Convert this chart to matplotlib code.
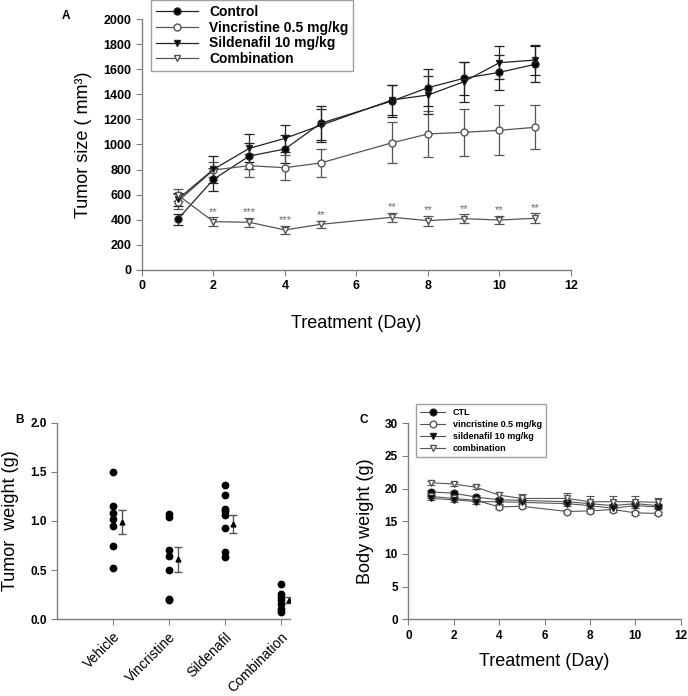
import matplotlib
matplotlib.use("Agg")
import matplotlib.pyplot as plt
from matplotlib.lines import Line2D
import numpy as np

plt.rcParams["font.family"] = ["Liberation Sans", "DejaVu Sans"]

# ---------------- data ----------------
days = [1, 2, 3, 4, 5, 7, 8, 9, 10, 11]

# panel A: tumour size (mm3)
ctl_size = [404, 722, 908, 964, 1169, 1347, 1453, 1527, 1575, 1639]
ctl_size_err = [45, 90, 100, 110, 135, 125, 150, 130, 140, 145]
vin_size = [545, 797, 831, 815, 853, 1014, 1084, 1097, 1113, 1137]
vin_size_err = [60, 60, 90, 100, 115, 163, 185, 185, 200, 175]
sil_size = [563, 802, 969, 1049, 1153, 1355, 1394, 1500, 1652, 1673]
sil_size_err = [50, 106, 112, 106, 130, 120, 150, 160, 133, 120]
cmb_size = [598, 385, 380, 319, 364, 420, 393, 409, 398, 412]
cmb_size_err = [45, 35, 35, 35, 30, 35, 40, 35, 35, 40]
stars = ["", "**", "***", "***", "**", "**", "**", "**", "**", "**"]

# panel B: tumour weight (g)
groups = ["Vehicle", "Vincristine", "Sildenafil", "Combination"]
w_vehicle = [1.50, 1.15, 1.08, 1.02, 0.95, 0.75, 0.52]
w_vincristine = [1.07, 1.04, 0.70, 0.64, 0.50, 0.21, 0.20]
w_sildenafil = [1.37, 1.26, 1.12, 1.10, 1.06, 0.93, 0.68, 0.63]
w_combination = [0.36, 0.26, 0.23, 0.20, 0.16, 0.10, 0.07]
w_mean = [0.99, 0.61, 0.97, 0.20]
w_sem = [0.12, 0.13, 0.095, 0.03]

# panel C: body weight (g)
ctl_bw = [19.5, 19.3, 18.7, 18.3, 18.2, 18.0, 17.7, 17.4, 17.7, 17.4]
vin_bw = [18.8, 18.5, 18.2, 17.2, 17.3, 16.5, 16.6, 16.8, 16.3, 16.2]
sil_bw = [18.5, 18.3, 18.0, 18.0, 17.9, 17.7, 17.4, 17.0, 17.4, 17.2]
cmb_bw = [20.9, 20.7, 20.2, 19.0, 18.5, 18.5, 18.0, 18.0, 18.0, 17.9]
ctl_bw_err = [0.3, 0.3, 0.3, 0.3, 0.3, 0.3, 0.3, 0.3, 0.3, 0.3]
vin_bw_err = [0.3, 0.3, 0.3, 0.3, 0.3, 0.3, 0.3, 0.3, 0.3, 0.3]
sil_bw_err = [0.3, 0.3, 0.3, 0.3, 0.3, 0.3, 0.3, 0.3, 0.3, 0.3]
cmb_bw_err = [0.3, 0.3, 0.3, 0.5, 0.7, 0.9, 0.9, 0.9, 0.9, 0.6]

SPINE = "#7f7f7f"
DARK = "#222222"
GREY = "#555555"


def style_axes(ax, size=8.5):
    for s in ("top", "right"):
        ax.spines[s].set_visible(False)
    for s in ("left", "bottom"):
        ax.spines[s].set_color(SPINE)
        ax.spines[s].set_linewidth(1.0)
    ax.tick_params(direction="out", length=4, width=0.8, color=SPINE,
                   labelsize=size)
    for lab in ax.get_xticklabels() + ax.get_yticklabels():
        lab.set_fontweight("bold")


fig = plt.figure(figsize=(6.88, 6.96), dpi=100)

# ---------------- panel A ----------------
axA = fig.add_axes([0.2064, 0.6121, 0.6235, 0.3606])
series_A = [
    (ctl_size, ctl_size_err, "o", "black", DARK, "Control"),
    (vin_size, vin_size_err, "o", "white", GREY, "Vincristine 0.5 mg/kg"),
    (sil_size, sil_size_err, "v", "black", DARK, "Sildenafil 10 mg/kg"),
    (cmb_size, cmb_size_err, "v", "white", GREY, "Combination"),
]
handles_A = []
for vals, err, mk, fc, lc, lab in series_A:
    axA.errorbar(days, vals, yerr=err, fmt="-" + mk, color=lc, ecolor=lc,
                 mfc=fc, mec=lc, ms=5, lw=0.9, elinewidth=0.9,
                 capsize=3.5, capthick=0.9)
    handles_A.append(Line2D([], [], color=lc, marker=mk, mfc=fc, mec=lc,
                            ms=5, lw=0.9, label=lab))
for d, v, e, s in zip(days, cmb_size, cmb_size_err, stars):
    if s:
        axA.text(d, v + e + 5, s, ha="center", va="bottom", fontsize=8,
                 color="#666666")
axA.set_xlim(0, 12)
axA.set_ylim(0, 2000)
axA.set_xticks(range(0, 13, 2))
axA.set_yticks(range(0, 2001, 200))
style_axes(axA, 9)
axA.set_xlabel("Treatment (Day)", fontsize=13, labelpad=16)
axA.set_ylabel("Tumor size ( mm³)", fontsize=13, labelpad=8)
legA = axA.legend(handles=handles_A, loc="upper left",
                  bbox_to_anchor=(0.022, 1.075), borderaxespad=0,
                  handlelength=3, frameon=True, fancybox=False,
                  edgecolor="#888888", prop={"weight": "bold", "size": 10},
                  labelspacing=0.12, borderpad=0.35)
legA.get_frame().set_linewidth(1.0)
fig.text(0.089, 0.985, "A", fontsize=8.5, fontweight="bold", va="top")

# ---------------- panel B ----------------
axB = fig.add_axes([0.0833, 0.1102, 0.3382, 0.2825])
group_vals = [w_vehicle, w_vincristine, w_sildenafil, w_combination]
for i, vals in enumerate(group_vals, start=1):
    axB.plot([i] * len(vals), vals, "o", color="black", ms=4.6, clip_on=False)
pos = np.arange(1, len(groups) + 1) + 0.155
axB.errorbar(pos, w_mean, yerr=w_sem, fmt="^", color="black", ms=3.5,
             ecolor=GREY, elinewidth=1.0, capsize=3, capthick=1.0)
axB.set_xlim(0, 4.17)
axB.set_ylim(0, 2.0)
axB.set_yticks([0.0, 0.5, 1.0, 1.5, 2.0])
axB.set_yticklabels(["0.0", "0.5", "1.0", "1.5", "2.0"])
axB.set_xticks(range(1, len(groups) + 1))
style_axes(axB, 8.5)
axB.set_xticklabels(groups, rotation=45, ha="right", rotation_mode="anchor",
                    fontsize=10, fontweight="normal")
axB.set_ylabel("Tumor  weight (g)", fontsize=13, labelpad=8)
fig.text(0.022, 0.405, "B", fontsize=8.5, fontweight="bold", va="top")

# ---------------- panel C ----------------
axC = fig.add_axes([0.5935, 0.1102, 0.3959, 0.2816])
series_C = [
    (ctl_bw, ctl_bw_err, "o", "black", "CTL"),
    (vin_bw, vin_bw_err, "o", "white", "vincristine 0.5 mg/kg"),
    (sil_bw, sil_bw_err, "v", "black", "sildenafil 10 mg/kg"),
    (cmb_bw, cmb_bw_err, "v", "white", "combination"),
]
handles_C = []
for vals, err, mk, fc, lab in series_C:
    mec = "#222222" if fc == "black" else GREY
    axC.errorbar(days, vals, yerr=err, fmt="-" + mk, color=GREY, ecolor=GREY,
                 mfc=fc, mec=mec, ms=4.8, lw=0.8, elinewidth=0.8,
                 capsize=3, capthick=0.8)
    handles_C.append(Line2D([], [], color=GREY, marker=mk, mfc=fc, mec=mec,
                            ms=4.8, lw=0.8, label=lab))
axC.set_xlim(0, 12)
axC.set_ylim(0, 30)
axC.set_xticks(range(0, 13, 2))
axC.set_yticks(range(0, 31, 5))
style_axes(axC, 8.5)
axC.set_xlabel("Treatment (Day)", fontsize=13, labelpad=8)
axC.set_ylabel("Body weight (g)", fontsize=13, labelpad=8)
legC = axC.legend(handles=handles_C, loc="upper left",
                  bbox_to_anchor=(0.028, 1.1), borderaxespad=0,
                  handlelength=2.8, frameon=True, fancybox=False,
                  edgecolor="#888888", prop={"weight": "bold", "size": 6.5},
                  labelspacing=0.35, borderpad=0.45)
legC.get_frame().set_linewidth(1.0)
fig.text(0.522, 0.405, "C", fontsize=8.5, fontweight="bold", va="top")

fig.savefig("out.png", dpi=100)
